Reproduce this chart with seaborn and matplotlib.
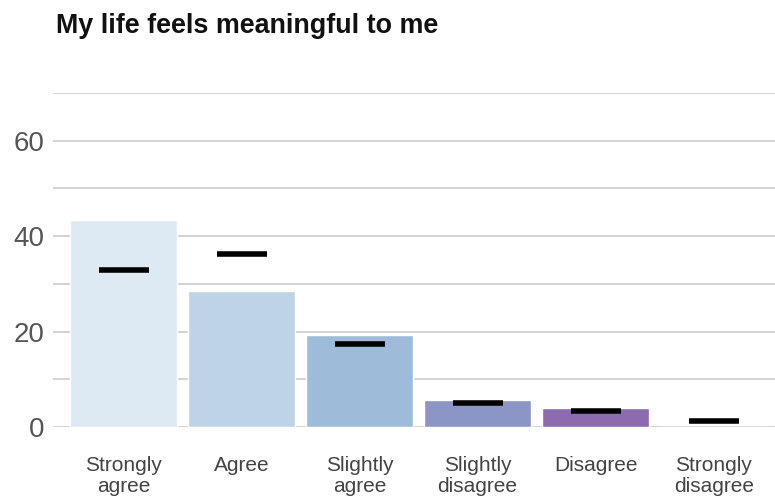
import matplotlib
matplotlib.use("Agg")
import matplotlib.pyplot as plt
import seaborn as sns
import pandas as pd

categories = ["Strongly\nagree", "Agree", "Slightly\nagree", "Slightly\ndisagree", "Disagree", "Strongly\ndisagree"]
values = [43.3, 28.6, 19.3, 5.7, 4.0, 0.0]
benchmark = [32.8, 36.3, 17.3, 5.0, 3.4, 1.3]
colors = ["#deeaf3", "#bfd3e6", "#9ebcda", "#8c96c6", "#8c6bb1", "#88419d"]
yticks = [0, 20, 40, 60]
title = "My life feels meaningful to me"

sns.set_style("white")
plt.rcParams["font.family"] = ["Liberation Sans", "DejaVu Sans"]

df = pd.DataFrame({"cat": categories, "val": values, "bench": benchmark})

fig = plt.figure(figsize=(7.75, 5.01), dpi=100)
ax = fig.add_axes([0.068, 0.1477, 0.932, 0.6667])

sns.barplot(data=df, x="cat", y="val", hue="cat", palette=colors, legend=False,
            width=0.9, saturation=1, ax=ax, zorder=2)
sns.scatterplot(data=df, x="cat", y="bench", marker="_", s=1250, linewidth=4,
                color="black", ax=ax, zorder=3)

ax.set_ylim(0, 70)
ax.set_xlim(-0.6, 5.52)
ax.set_yticks(range(0, 71, 10))
ax.set_yticklabels([str(v) if v in yticks else "" for v in range(0, 71, 10)])
ax.yaxis.grid(True, color="#d4d4d4", linewidth=1.5, zorder=0)
ax.set_axisbelow(True)
for s in ax.spines.values():
    s.set_visible(False)
ax.tick_params(axis="y", length=0, labelsize=20, labelcolor="#555555", pad=6)
ax.tick_params(axis="x", length=0, labelsize=15, labelcolor="#444444", pad=21)
for lbl in ax.get_xticklabels():
    lbl.set_linespacing(1.12)
ax.set_xlabel("")
ax.set_ylabel("")

fig.text(0.072, 0.934, title, fontsize=19.4, fontweight="bold", color="#111111",
         ha="left", va="baseline")

fig.savefig("out.png", dpi=100)
